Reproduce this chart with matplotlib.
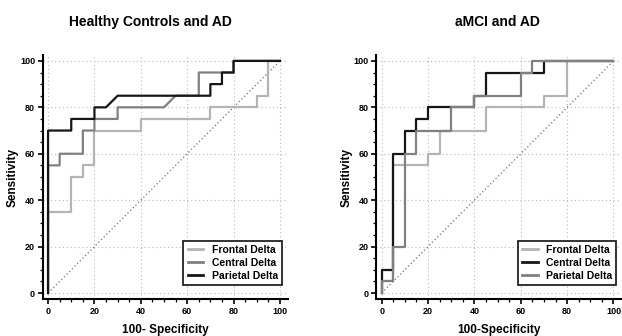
import matplotlib
matplotlib.use("Agg")
import matplotlib.pyplot as plt
from matplotlib.ticker import MultipleLocator

plt.rcParams['font.family'] = ['Liberation Sans', 'DejaVu Sans']

# ROC step curves (100-Specificity, Sensitivity)
hc_frontal_x = [0, 0, 10, 10, 15, 15, 20, 20, 40, 40, 70, 70, 90, 90, 95, 95, 100]
hc_frontal_y = [0, 35, 35, 50, 50, 55, 55, 70, 70, 75, 75, 80, 80, 85, 85, 100, 100]
hc_central_x = [0, 0, 5, 5, 15, 15, 20, 20, 30, 30, 50, 55, 65, 65, 80, 80, 100]
hc_central_y = [0, 55, 55, 60, 60, 70, 70, 75, 75, 80, 80, 85, 85, 95, 95, 100, 100]
hc_parietal_x = [0, 0, 10, 10, 20, 20, 25, 30, 70, 70, 75, 75, 80, 80, 100]
hc_parietal_y = [0, 70, 70, 75, 75, 80, 80, 85, 85, 90, 90, 95, 95, 100, 100]

mci_frontal_x = [0, 0, 5, 5, 20, 20, 25, 25, 45, 45, 70, 70, 80, 80, 100]
mci_frontal_y = [0, 5, 5, 55, 55, 60, 60, 70, 70, 80, 80, 85, 85, 100, 100]
mci_central_x = [0, 0, 5, 5, 10, 10, 15, 15, 20, 20, 40, 40, 45, 45, 70, 70, 100]
mci_central_y = [0, 10, 10, 60, 60, 70, 70, 75, 75, 80, 80, 85, 85, 95, 95, 100, 100]
mci_parietal_x = [0, 0, 5, 5, 10, 10, 15, 15, 30, 30, 40, 40, 60, 60, 65, 65, 100]
mci_parietal_y = [0, 5, 5, 20, 20, 60, 60, 70, 70, 80, 80, 85, 85, 95, 95, 100, 100]

LIGHT = '#b4b4b4'
MID = '#808080'
DARK = '#161616'

fig = plt.figure(figsize=(6.22, 3.36), dpi=100)
ax1 = fig.add_axes([0.0687, 0.110, 0.394, 0.726])
ax2 = fig.add_axes([0.605, 0.110, 0.394, 0.726])


def style_axes(ax):
    ax.set_xlim(-2.3, 103.4)
    ax.set_ylim(-2.6, 102.5)
    for s in ['top', 'right']:
        ax.spines[s].set_visible(False)
    for s in ['left', 'bottom']:
        ax.spines[s].set_linewidth(1.5)
    ax.xaxis.set_major_locator(MultipleLocator(20))
    ax.yaxis.set_major_locator(MultipleLocator(20))
    ax.xaxis.set_minor_locator(MultipleLocator(5))
    ax.yaxis.set_minor_locator(MultipleLocator(5))
    ax.tick_params(which='major', direction='out', length=3.5, width=1.2,
                   labelsize=6.5, pad=2)
    ax.tick_params(which='minor', direction='out', length=2.2, width=0.9)
    for lab in ax.get_xticklabels() + ax.get_yticklabels():
        lab.set_fontweight('bold')
    ax.grid(True, which='major', linestyle=(0, (1, 2.5)), color='#b8b8b8', linewidth=0.8)
    ax.plot([0, 100], [0, 100], linestyle=(0, (1, 2)), color='#707070', linewidth=0.9)
    ax.set_ylabel('Sensitivity', fontsize=8.5, fontweight='bold', labelpad=1)


style_axes(ax1)
ax1.set_xlabel('100- Specificity', fontsize=8.5, fontweight='bold', labelpad=6)
ax1.plot(hc_frontal_x, hc_frontal_y, color=LIGHT, lw=1.6, label='Frontal Delta')
ax1.plot(hc_central_x, hc_central_y, color=MID, lw=1.6, label='Central Delta')
ax1.plot(hc_parietal_x, hc_parietal_y, color=DARK, lw=1.6, label='Parietal Delta')

style_axes(ax2)
ax2.set_xlabel('100-Specificity', fontsize=8.5, fontweight='bold', labelpad=6)
ax2.plot(mci_frontal_x, mci_frontal_y, color=LIGHT, lw=1.6, label='Frontal Delta')
ax2.plot(mci_central_x, mci_central_y, color=DARK, lw=1.6, label='Central Delta')
ax2.plot(mci_parietal_x, mci_parietal_y, color=MID, lw=1.6, label='Parietal Delta')

for ax, right in [(ax1, 0.976), (ax2, 0.98)]:
    leg = ax.legend(loc='lower right', bbox_to_anchor=(right, 0.057), borderaxespad=0,
                    fancybox=False, framealpha=1, edgecolor='#222222',
                    prop={'size': 7.5, 'weight': 'bold'}, handlelength=1.5,
                    handletextpad=0.8, labelspacing=0.3, borderpad=0.4)
    leg.get_frame().set_linewidth(1.3)
    for line in leg.get_lines():
        line.set_linewidth(2)

fig.text(0.242, 0.935, 'Healthy Controls and AD', ha='center', va='center',
         fontsize=10, fontweight='bold')
fig.text(0.80, 0.935, 'aMCI and AD', ha='center', va='center',
         fontsize=10, fontweight='bold')

fig.savefig('out.png', dpi=100)
